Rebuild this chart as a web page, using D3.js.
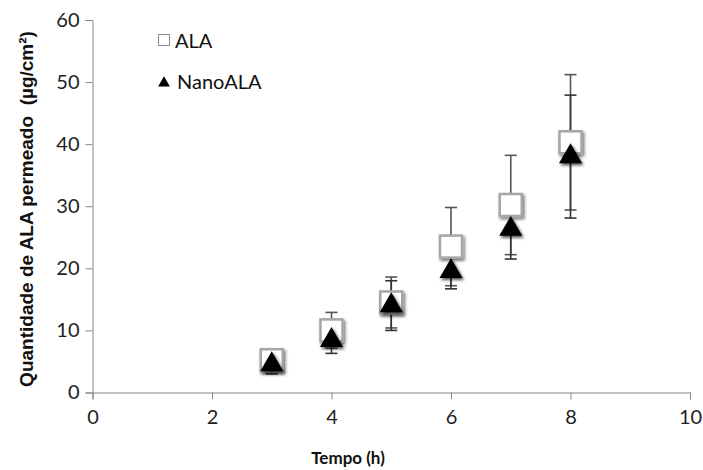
<!DOCTYPE html>
<html>
<head>
<meta charset="utf-8">
<script src="https://cdn.jsdelivr.net/npm/d3@7"></script>
<style>
  html, body { margin: 0; padding: 0; background: #fff; }
  svg { display: block; font-family: Lato, "Open Sans", sans-serif; }
</style>
</head>
<body>
<svg id="chart" width="703" height="470"></svg>
<script>
// Permeation time points (h)
const times = [3, 4, 5, 6, 7, 8];
// Free ALA: mean and SD (µg/cm²)
const alaMean = [5.2, 10.0, 14.5, 23.5, 30.2, 40.3];
const alaSD   = [0.8, 2.9, 4.1, 6.3, 8.0, 10.9];
// NanoALA: mean and SD (µg/cm²)
const nanoMean = [4.5, 8.4, 14.0, 19.5, 26.3, 38.0];
const nanoSD   = [1.5, 2.1, 4.0, 2.8, 4.8, 9.9];
// Axis ticks
const xTicks = [0, 2, 4, 6, 8, 10];
const yTicks = [0, 10, 20, 30, 40, 50, 60];
const seriesNames = ["ALA", "NanoALA"];

const svg = d3.select("#chart");
const x = d3.scaleLinear().domain([0, 10]).range([92.5, 690]);
const y = d3.scaleLinear().domain([0, 60]).range([392.5, 20]);

// drop shadows for markers
const defs = svg.append("defs");
function shadow(id, color, opacity, blur) {
  const f = defs.append("filter").attr("id", id)
    .attr("x", "-50%").attr("y", "-50%").attr("width", "200%").attr("height", "200%");
  f.append("feDropShadow").attr("dx", 1.5).attr("dy", 2).attr("stdDeviation", blur)
    .attr("flood-color", color).attr("flood-opacity", opacity);
}
shadow("shSq", "#000", 0.55, 1.6);
shadow("shTri", "#000", 0.7, 1.6);

const axisColor = "#868686";

// Y axis
const yAxis = svg.append("g").attr("transform", `translate(${x(0)},0)`)
  .call(d3.axisLeft(y).tickValues(yTicks).tickSize(7).tickPadding(6).tickFormat(d3.format("d")));
// X axis
const xAxis = svg.append("g").attr("transform", `translate(0,${y(0)})`)
  .call(d3.axisBottom(x).tickValues(xTicks).tickSize(7).tickPadding(10).tickFormat(d3.format("d")));
[yAxis, xAxis].forEach(g => {
  g.select(".domain").attr("stroke", axisColor).attr("stroke-width", 1);
  g.selectAll(".tick line").attr("stroke", axisColor);
  g.selectAll(".tick text").attr("fill", "#222").style("font-size", "20px")
    .style("font-family", "Lato, 'Open Sans', sans-serif");
});

// axis titles
svg.append("text")
  .attr("x", 348).attr("y", 464)
  .attr("text-anchor", "middle")
  .style("font-size", "17px").style("font-weight", "bold").attr("fill", "#111")
  .text("Tempo (h)");
const yTitle = svg.append("text")
  .attr("transform", `translate(33,209) rotate(-90)`)
  .attr("text-anchor", "middle")
  .style("font-family", "'Liberation Sans', Arial, sans-serif")
  .style("font-size", "18px").style("font-weight", "bold").attr("fill", "#111")
  .attr("xml:space", "preserve")
  .text("Quantidade de ALA permeado  (µg/cm²)");
// scale the title font so it spans the axis height
const targetLen = 356;
const len = yTitle.node().getComputedTextLength();
yTitle.style("font-size", (18 * targetLen / len).toFixed(2) + "px");

// error bars
function errorBars(means, sds, color) {
  const data = times.map((t, i) => ({ t, m: means[i], s: sds[i] }));
  const g = svg.append("g").attr("stroke", color).attr("stroke-width", 1.6);
  g.selectAll("line.v").data(data).join("line")
    .attr("x1", d => x(d.t)).attr("x2", d => x(d.t))
    .attr("y1", d => y(d.m - d.s)).attr("y2", d => y(d.m + d.s));
  ["lo", "hi"].forEach(k => {
    g.selectAll("line." + k).data(data).join("line")
      .attr("x1", d => x(d.t) - 6).attr("x2", d => x(d.t) + 6)
      .attr("y1", d => y(k === "lo" ? d.m - d.s : d.m + d.s))
      .attr("y2", d => y(k === "lo" ? d.m - d.s : d.m + d.s));
  });
}
errorBars(alaMean, alaSD, "#555");
errorBars(nanoMean, nanoSD, "#333");

// ALA squares
const sq = 22;
svg.append("g").selectAll("rect").data(times.map((t, i) => ({ t, v: alaMean[i] }))).join("rect")
  .attr("x", d => x(d.t) - sq / 2).attr("y", d => y(d.v) - sq / 2)
  .attr("width", sq).attr("height", sq)
  .attr("fill", "#fff").attr("stroke", "#a6a6a6").attr("stroke-width", 2.5)
  .attr("filter", "url(#shSq)");

// NanoALA triangles
const tri = d3.symbol().type(d3.symbolTriangle).size(230);
svg.append("g").selectAll("path").data(times.map((t, i) => ({ t, v: nanoMean[i] }))).join("path")
  .attr("transform", d => `translate(${x(d.t)},${y(d.v)})`)
  .attr("d", tri).attr("fill", "#000").attr("filter", "url(#shTri)");

// legend
const leg = svg.append("g");
leg.append("rect").attr("x", 158.5).attr("y", 34.5).attr("width", 11).attr("height", 11)
  .attr("fill", "#fff").attr("stroke", "#8c8c8c").attr("stroke-width", 1);
leg.append("text").attr("x", 175).attr("y", 47.5).style("font-size", "20px").attr("fill", "#111")
  .text(seriesNames[0]);
leg.append("path").attr("transform", "translate(164,83)")
  .attr("d", d3.symbol().type(d3.symbolTriangle).size(60)).attr("fill", "#000");
leg.append("text").attr("x", 177).attr("y", 88.5).style("font-size", "20px").attr("fill", "#111")
  .text(seriesNames[1]);
</script>
</body>
</html>
